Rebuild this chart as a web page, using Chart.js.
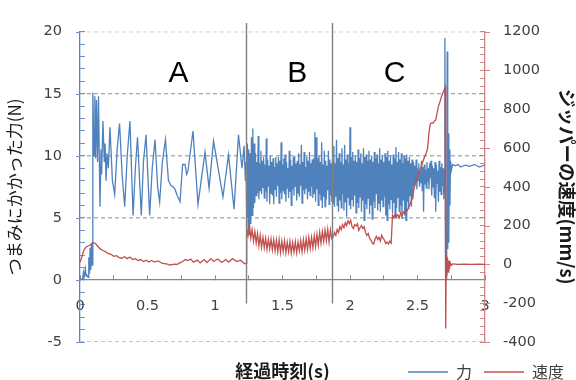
<!DOCTYPE html>
<html>
<head>
<meta charset="utf-8">
<script src="https://cdn.jsdelivr.net/npm/chart.js@4"></script>
<style>
html,body{margin:0;padding:0;background:#fff;}
canvas{display:block;}
</style>
</head>
<body>
<canvas id="c" width="576" height="380"></canvas>
<script>
// ---- Force (N), left axis ----
// Region A: read as turning points (time s, value N)
const forceA_t = [0,0.01,0.02,0.025,0.03,0.04,0.045,0.05,0.06,0.065,0.07,0.075,0.08,0.085,0.09,0.094,0.096,0.104,0.110,0.116,0.122,0.130,0.137,0.148,0.156,0.160,0.170,0.180,0.186,0.193,0.200,0.210,0.222,0.240,0.257,0.275,0.293,0.312,0.331,0.350,0.370,0.393,0.410,0.426,0.454,0.470,0.489,0.516,0.535,0.556,0.575,0.590,0.610,0.633,0.655,0.674,0.690,0.704,0.720,0.741,0.760,0.778,0.790,0.800,0.837,0.874,0.926,0.956,0.989,1.059,1.100,1.141,1.174,1.200,1.215,1.225];
const forceA_v = [0,0.05,0.1,0.6,0.2,0.9,0.3,0.4,0.2,1.8,0.5,2.6,0.8,3.0,1.2,3.2,15.1,10.0,14.8,9.8,14.5,9.5,14.8,5.9,10.5,8.5,12.8,9.5,11.0,8.0,10.2,9.0,12.3,8.0,6.9,10.5,12.6,8.5,5.9,10.0,12.8,5.2,9.0,11.5,5.2,9.5,11.7,5.2,9.0,11.3,7.5,6.3,9.5,11.3,8.0,7.6,7.5,7.3,6.8,6.3,9.3,9.3,8.5,8.8,12.0,6.1,10.3,7.4,11.2,6.7,10.1,5.7,11.7,9.0,10.8,8.0];
// Region B: sampled every 0.005 s from 1.230 s
const forceB_start = 1.23;
const forceB = [
9.5,5.0,11.0,4.2,10.5,3.6,10.2,4.5,11.5,5.2,
12.2,5.8,11.0,6.2,10.2,6.8,9.5,7.0,11.6,6.5,
9.4,7.2,10.4,6.9,9.6,7.4,9.9,6.6,9.3,7.1,
11.4,6.3,9.7,7.5,9.2,6.1,10.0,7.0,9.5,6.8,
9.8,6.1,9.1,7.3,9.9,6.7,9.4,7.6,9.9,6.2,
9.6,7.0,11.1,6.5,9.3,7.2,9.8,6.9,10.1,6.3,
9.5,7.4,9.0,6.6,10.4,7.1,9.7,6.0,9.2,7.3,
9.9,6.8,10.0,7.5,9.4,6.4,9.6,7.0,10.2,6.7,
9.3,7.6,10.9,6.2,9.5,7.2,10.3,6.9,9.1,7.4,
9.9,6.5,9.6,7.1,10.3,6.8,9.4,7.5,9.7,6.6,
9.8,7.0,11.9,6.3,11.5,7.3,9.8,6.0,10.0,6.9,
9.5,6.4,11.1,5.8,9.3,6.7,10.4,5.9,9.6,6.5,
9.2,7.2,10.4,6.1,9.7,6.8,9.4,6.3];
// Region C: sampled every 0.005 s from 1.870 s
const forceC_start = 1.87;
const forceC = [
9.6,6.2,10.8,5.9,9.4,6.7,11.3,6.0,9.8,5.5,
10.2,6.4,9.5,5.8,10.6,6.9,9.3,5.6,10.9,6.3,
9.7,5.1,10.1,6.6,9.4,6.0,12.3,5.7,9.9,6.5,
10.3,5.9,9.6,6.8,10.0,5.4,9.5,6.2,10.5,5.8,
9.8,6.7,10.2,5.5,9.4,6.4,10.6,4.8,9.9,6.1,
10.1,5.7,9.6,6.6,10.4,5.3,9.7,6.0,10.0,4.9,
9.5,6.3,10.3,5.8,9.8,6.9,10.1,5.6,9.4,6.2,
10.6,5.5,9.7,6.4,10.0,5.9,9.5,6.7,10.2,5.2,
9.9,4.8,10.4,6.1,9.6,5.7,10.0,6.5,9.3,5.4,
10.1,6.2,9.8,5.0,10.7,5.8,9.5,6.6,10.3,5.5,
9.7,6.0,10.2,4.9,9.4,6.4,10.0,5.2,9.8,4.8,
10.1,6.3,9.6,5.7,9.9,6.8,9.4,5.9,9.7,6.5,
9.5,7.6,9.2,7.9,9.7,7.3,9.0,8.0,9.4,7.5,
8.8,7.8,9.6,7.2,9.1,5.5,9.3,7.7,8.9,7.4,
9.5,7.9,9.0,7.3,9.4,8.2,9.6,6.8,9.2,7.5,
9.0,6.6,9.5,5.5,9.3,7.8,8.8,6.3,9.6,7.1,
9.1,6.9,9.4,7.6,9.0,6.5,8.5];
// End: release spike and plateau
const forceEnd_t = [2.703,2.708,2.712,2.716,2.720,2.724,2.728,2.732,2.736,2.740,2.745,2.750,2.760,2.780,2.800,2.820,2.840,2.860,2.880,2.900,2.920,2.940,2.960,2.980,3.000];
const forceEnd_v = [19.5,0.3,2.0,0.0,18.4,2.5,11.8,3.0,10.5,6.0,9.6,8.8,9.3,9.2,9.3,9.1,9.2,9.25,9.15,9.2,9.3,9.2,9.1,9.2,9.25];

// ---- Velocity (mm/s), right axis ----
const velA_t = [0,0.01,0.02,0.03,0.045,0.06,0.075,0.09,0.1,0.115,0.13,0.15,0.17,0.19,0.21,0.23,0.25,0.27,0.29,0.31,0.33,0.35,0.37,0.39,0.41,0.43,0.45,0.47,0.49,0.51,0.53,0.55,0.58,0.61,0.64,0.67,0.70,0.72,0.74,0.76,0.78,0.80,0.82,0.84,0.87,0.89,0.92,0.94,0.97,0.99,1.02,1.05,1.08,1.10,1.13,1.16,1.19,1.22,1.23];
const velA_v = [10,30,55,75,90,95,100,108,112,108,95,80,72,65,55,52,42,45,35,32,40,30,38,25,30,20,25,15,22,12,20,12,18,5,3,-3,2,0,8,15,25,20,28,12,22,8,25,10,30,15,28,10,25,12,30,15,22,3,5];
const velB_start = 1.235;   // every 0.01 s
const velB = [
190,150,205,135,180,120,170,110,160,95,
150,88,140,85,135,78,130,80,132,75,
128,70,125,65,127,62,120,67,122,60,
115,65,119,58,113,63,117,60,115,70,
123,65,127,73,133,77,140,83,140,85,
148,92,155,100,165,110,170,118,178,122,
182,115,178,132];
const velC_start = 1.875;   // every 0.01 s
const velC = [
140,165,150,180,165,195,180,205,190,215,
200,225,210,228,195,185,205,198,210,175,
190,200,185,195,165,150,160,135,125,110,
105,130,145,128,140,120,150,135,125,108,
115,105,120,110,255,240,262,248,255,240,
265,250,270,262,285,278,295,310,330,350,
395,420,445,462,480,500,520,540,560,575,
600,680,725,730,728,740,745,780,815,835,
860,880,895,915];
const velEnd_t = [2.709,2.713,2.717,2.722,2.727,2.732,2.737,2.742,2.750,2.760,2.800,2.850,2.900,2.950,3.000];
const velEnd_v = [-330,40,-60,35,-40,20,-25,10,-5,3,0,2,0,1,0];

// ---- Tick values and annotations ----
const leftMajorTicks = [-5, 0, 5, 10, 15, 20];
const rightMajorTicks = [-400, -200, 0, 200, 400, 600, 800, 1000, 1200];
const timeRange = [0, 3];
const separatorT = [1.23, 1.87];
const regionLabels = ['A','B','C'];
const regionLabelT = [0.73, 1.61, 2.33];
const REGION_LABEL_Y = 16.6;
const SEP_TOP = 20.7, SEP_BOTTOM = -1.9;

const FORCE_STEP = 0.005, VEL_STEP = 0.01;
function pairs(ts, vs){ return ts.map((t,i)=>({x:t, y:vs[i]})); }
function seq(start, step, vs){ return vs.map((v,i)=>({x:+(start+i*step).toFixed(4), y:v})); }

const forceData = [].concat(pairs(forceA_t, forceA_v), seq(forceB_start, FORCE_STEP, forceB), seq(forceC_start, FORCE_STEP, forceC), pairs(forceEnd_t, forceEnd_v));
const velData = [].concat(pairs(velA_t, velA_v), seq(velB_start, VEL_STEP, velB), seq(velC_start, VEL_STEP, velC), pairs(velEnd_t, velEnd_v));

// dashed horizontal grid lines at the left-axis major ticks, drawn as line datasets under the data
const gridDatasets = leftMajorTicks.filter(v => v !== 0).map(v => ({
  label: 'grid' + v, data: timeRange.map(t => ({x: t, y: v})), xAxisID: 'x', yAxisID: 'y',
  borderColor: '#8a8a8a', borderWidth: 1, borderDash: [4, 3], pointRadius: 0, tension: 0, order: 10, isGrid: true
}));

const tickFont = {family:'DejaVu Sans', size:14.5};
const tickColor = '#404040';

// outward major tick marks of both value axes
function paintMajorTicks(chart){
  const ctx = chart.ctx, y = chart.scales.y, y1 = chart.scales.y1, x = chart.scales.x;
  const left = x.getPixelForValue(timeRange[0]), right = x.getPixelForValue(timeRange[1]);
  ctx.lineWidth = 1;
  ctx.strokeStyle = '#6a92c8';
  leftMajorTicks.forEach(function(v){ const py = Math.round(y.getPixelForValue(v)) + 0.5; ctx.beginPath(); ctx.moveTo(left - 4, py); ctx.lineTo(left, py); ctx.stroke(); });
  ctx.strokeStyle = '#d08583';
  rightMajorTicks.forEach(function(v){ const py = Math.round(y1.getPixelForValue(v)) + 0.5; ctx.beginPath(); ctx.moveTo(right, py); ctx.lineTo(right + 5, py); ctx.stroke(); });
}

const decorPlugin = {
  id:'decor',
  afterDatasetsDraw(chart){
    const ctx = chart.ctx; const x = chart.scales.x, y = chart.scales.y;
    ctx.save();
    paintMajorTicks(chart);
    ctx.strokeStyle = '#808080'; ctx.lineWidth = 1.4;
    separatorT.forEach(function(t){
      const px = Math.round(x.getPixelForValue(t))+0.5;
      ctx.beginPath(); ctx.moveTo(px, y.getPixelForValue(SEP_TOP)); ctx.lineTo(px, y.getPixelForValue(SEP_BOTTOM)); ctx.stroke();
    });
    ctx.fillStyle = '#000'; ctx.font = '30px "Liberation Sans", Arial, sans-serif';
    ctx.textAlign = 'center'; ctx.textBaseline = 'middle';
    regionLabels.forEach(function(l,i){ ctx.fillText(l, x.getPixelForValue(regionLabelT[i]), y.getPixelForValue(REGION_LABEL_Y)); });
    ctx.restore();
  }
};

new Chart(document.getElementById('c'), {
  type:'line',
  data:{ datasets:[
    {label:'力', data:forceData, xAxisID:'x', yAxisID:'y', borderColor:'#4F81BD', backgroundColor:'#4F81BD', borderWidth:1.3, pointRadius:0, tension:0, order:1},
    {label:'速度', data:velData, xAxisID:'x', yAxisID:'y1', borderColor:'#C0504D', backgroundColor:'#C0504D', borderWidth:1.3, pointRadius:0, tension:0, order:0}
  ].concat(gridDatasets)},
  options:{
    responsive:false, animation:false,
    layout:{padding:{top:22, bottom:-10, left:0, right:0}},
    scales:{
      x:{ type:'linear', position:{y:0}, min:0, max:3,
        ticks:{stepSize:0.25, autoSkip:false, maxTicksLimit:1000, maxRotation:0, padding:23, color:tickColor, font:tickFont,
          callback:(v)=> Math.abs(v*2-Math.round(v*2))<1e-6 ? String(+v.toFixed(2)) : ''},
        grid:{drawOnChartArea:false, drawTicks:true, tickLength:-5, tickColor:'#868686', tickWidth:1},
        border:{color:'#868686', width:1.3}
      },
      x2:{ type:'linear', position:'bottom', min:0, max:3,
        afterFit:(s)=>{ s.height = 10; },
        ticks:{display:false}, grid:{display:false, drawTicks:false}, border:{display:false},
        title:{display:true, text:'経過時刻(s)', color:'#1a1a1a', font:{family:'Noto Sans CJK JP', size:18, weight:'bold'}, padding:{top:0, bottom:-29.8}}
      },
      y:{ type:'linear', position:'left', min:-5, max:20,
        afterFit:(s)=>{ s.width = 80; },
        ticks:{stepSize:1, autoSkip:false, maxTicksLimit:1000, padding:23, color:tickColor, font:tickFont,
          callback:(v)=> v%5===0 ? String(v) : ''},
        grid:{drawOnChartArea:false, drawTicks:true, tickLength:-5, tickColor:'#6a92c8', tickWidth:1},
        border:{color:'#5b87c0', width:1.3},
        title:{display:true, text:'つまみにかかった力(N)', color:'#1a1a1a', font:{family:'Noto Sans CJK JP', size:17}, padding:{top:4.8, bottom:0}}
      },
      y1:{ type:'linear', position:'right', min:-400, max:1200,
        afterFit:(s)=>{ s.width = 91; },
        ticks:{stepSize:40, autoSkip:false, maxTicksLimit:1000, padding:23, color:tickColor, font:tickFont,
          callback:(v)=> v%200===0 ? String(v) : ''},
        grid:{drawOnChartArea:false, drawTicks:true, tickLength:-5, tickColor:'#d08583', tickWidth:1},
        border:{color:'#d08583', width:1.3},
        title:{display:true, text:'ジッパーの速度(mm/s)', color:'#1a1a1a', font:{family:'Noto Sans CJK JP', size:18.5, weight:'bold'}, padding:{top:-1.8, bottom:0}}
      }
    },
    plugins:{
      legend:{display:true, position:'bottom', align:'end',
        labels:{usePointStyle:true, pointStyle:'line', pointStyleWidth:40, padding:12, color:'#404040',
          font:{family:'Noto Sans CJK JP', size:16},
          filter:(item)=>item.datasetIndex < 2,
          sort:(a,b)=>a.datasetIndex-b.datasetIndex}},
      tooltip:{enabled:false}
    }
  },
  plugins:[decorPlugin]
});
</script>
</body>
</html>
